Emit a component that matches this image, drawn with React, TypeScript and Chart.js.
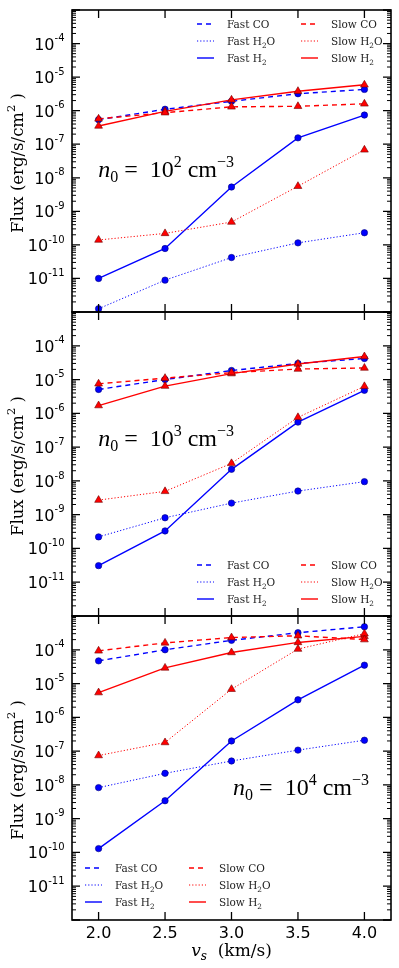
import React, { useEffect, useRef } from 'react';
import { Chart, registerables } from 'chart.js';
Chart.register(...registerables);

// ---------- data ----------
const velocities = [2.0, 2.5, 3.0, 3.5, 4.0];
const xTickValues = [2.0, 2.5, 3.0, 3.5, 4.0];
const yLabelExponents = [-11, -10, -9, -8, -7, -6, -5, -4];
const densityExponents = ['2', '3', '4'];
const seriesLabels = ['Fast CO', 'Fast H₂O', 'Fast H₂', 'Slow CO', 'Slow H₂O', 'Slow H₂'];

// n0 = 1e2
const fastCO_n2 = [5.4e-7, 1.1e-6, 1.9e-6, 3.2e-6, 4.3e-6];
const fastH2O_n2 = [1.25e-12, 8.9e-12, 4.2e-11, 1.15e-10, 2.3e-10];
const fastH2_n2 = [1.0e-11, 7.8e-11, 5.3e-9, 1.55e-7, 7.4e-7];
const slowCO_n2 = [5.7e-7, 8.7e-7, 1.3e-6, 1.35e-6, 1.6e-6];
const slowH2O_n2 = [1.4e-10, 2.2e-10, 4.8e-10, 5.6e-9, 6.8e-8];
const slowH2_n2 = [3.5e-7, 9.5e-7, 2.1e-6, 3.8e-6, 5.9e-6];

// n0 = 1e3
const fastCO_n3 = [5.1e-6, 1.0e-5, 1.85e-5, 3.0e-5, 4.2e-5];
const fastH2O_n3 = [2.2e-10, 8.1e-10, 2.2e-9, 5.0e-9, 9.5e-9];
const fastH2_n3 = [3.1e-11, 3.3e-10, 2.2e-8, 5.5e-7, 4.8e-6];
const slowCO_n3 = [7.5e-6, 1.1e-5, 1.6e-5, 2.05e-5, 2.2e-5];
const slowH2O_n3 = [2.7e-9, 4.9e-9, 3.3e-8, 7.6e-7, 6.3e-6];
const slowH2_n3 = [1.7e-6, 6.4e-6, 1.5e-5, 2.9e-5, 4.8e-5];

// n0 = 1e4
const fastCO_n4 = [4.7e-5, 1.0e-4, 1.9e-4, 3.2e-4, 4.8e-4];
const fastH2O_n4 = [8.3e-9, 2.2e-8, 5.1e-8, 1.07e-7, 2.1e-7];
const fastH2_n4 = [1.3e-10, 3.4e-9, 2.0e-7, 3.3e-6, 3.5e-5];
const slowCO_n4 = [9.3e-5, 1.6e-4, 2.3e-4, 2.6e-4, 2.0e-4];
const slowH2O_n4 = [7.4e-8, 1.8e-7, 6.8e-6, 1.05e-4, 3.0e-4];
const slowH2_n4 = [5.4e-6, 2.9e-5, 8.3e-5, 1.65e-4, 2.5e-4];

const panelSeries = [
  [fastCO_n2, fastH2O_n2, fastH2_n2, slowCO_n2, slowH2O_n2, slowH2_n2],
  [fastCO_n3, fastH2O_n3, fastH2_n3, slowCO_n3, slowH2O_n3, slowH2_n3],
  [fastCO_n4, fastH2O_n4, fastH2_n4, slowCO_n4, slowH2O_n4, slowH2_n4],
];

// ---------- layout / style ----------
const W = 399;
const H = 968;
const PLOT_LEFT = 72;
const PLOT_RIGHT_PAD = 8;
const panelTops = [10, 312, 616];
const panelBottoms = [312, 616, 920];
// annotation: fraction of plot width / height for baseline-left
const annotPos = [
  { fx: 0.082, fy: 0.553 },
  { fx: 0.082, fy: 0.44 },
  { fx: 0.505, fy: 0.59 },
];
// legend: first line-sample x offset from plot left, first row y offset from plot top
const legendPos = [
  { dx: 125, dy: 14 },
  { dx: 125, dy: 253 },
  { dx: 13, dy: 252 },
];

const BLUE = '#0000ff';
const RED = '#ff0000';
const SERIF = '"DejaVu Serif", serif';
const SANS = '"DejaVu Sans", sans-serif';

type Piece = { t: string; size: number; italic?: boolean; dy?: number };

function drawRich(ctx: CanvasRenderingContext2D, pieces: Piece[], x: number, y: number, align: 'left' | 'center' | 'right', family: string) {
  const widths = pieces.map((p) => {
    ctx.font = `${p.italic ? 'italic ' : ''}${p.size}px ${family}`;
    return ctx.measureText(p.t).width;
  });
  const total = widths.reduce((a, b) => a + b, 0);
  let cx = align === 'left' ? x : align === 'center' ? x - total / 2 : x - total;
  pieces.forEach((p, i) => {
    ctx.font = `${p.italic ? 'italic ' : ''}${p.size}px ${family}`;
    ctx.fillText(p.t, cx, y + (p.dy || 0));
    cx += widths[i];
  });
}

function labelPieces(label: string, size: number): Piece[] {
  const out: Piece[] = [];
  let buf = '';
  for (const ch of label) {
    if (ch === '₂') {
      if (buf) out.push({ t: buf, size });
      buf = '';
      out.push({ t: '2', size: size * 0.7, dy: size * 0.3 });
    } else buf += ch;
  }
  if (buf) out.push({ t: buf, size });
  return out;
}

const decorPlugin = {
  id: 'decor',
  afterDraw(chart: any, _args: any, opts: any) {
    const { ctx, chartArea: a, scales } = chart;
    const x = scales.x;
    const y = scales.y;
    ctx.save();
    ctx.strokeStyle = '#000';
    ctx.fillStyle = '#000';
    // y ticks (major + minor), inward on both sides
    for (let e = -12; e <= -3; e++) {
      const py = y.getPixelForValue(Math.pow(10, e));
      ctx.lineWidth = 1.3;
      ctx.beginPath();
      ctx.moveTo(a.left, py); ctx.lineTo(a.left + 8, py);
      ctx.moveTo(a.right, py); ctx.lineTo(a.right - 8, py);
      ctx.stroke();
      if (e < -3) {
        ctx.lineWidth = 1;
        ctx.beginPath();
        for (let m = 2; m <= 9; m++) {
          const pm = y.getPixelForValue(m * Math.pow(10, e));
          ctx.moveTo(a.left, pm); ctx.lineTo(a.left + 4, pm);
          ctx.moveTo(a.right, pm); ctx.lineTo(a.right - 4, pm);
        }
        ctx.stroke();
      }
    }
    // x ticks inward top & bottom
    ctx.lineWidth = 1.3;
    ctx.beginPath();
    for (const v of xTickValues) {
      const px = x.getPixelForValue(v);
      ctx.moveTo(px, a.top); ctx.lineTo(px, a.top + 8);
      ctx.moveTo(px, a.bottom); ctx.lineTo(px, a.bottom - 8);
    }
    ctx.stroke();
    // frame
    ctx.lineWidth = 1.6;
    ctx.strokeRect(a.left, a.top, a.right - a.left, a.bottom - a.top);

    // y tick labels 10^e
    ctx.textBaseline = 'alphabetic';
    for (const e of yLabelExponents) {
      const py = y.getPixelForValue(Math.pow(10, e));
      drawRich(ctx, [
        { t: '10', size: 16, dy: 6 },
        { t: String(e), size: 10, dy: -2.3 },
      ], a.left - 7.5, py, 'right', SANS);
    }

    // y axis title (rotated)
    ctx.save();
    ctx.translate(23, (a.top + a.bottom) / 2 + 2);
    ctx.rotate(-Math.PI / 2);
    drawRich(ctx, [
      { t: 'Flux (erg/s/cm', size: 16.5 },
      { t: '2', size: 11.5, dy: -8 },
      { t: ' )', size: 16.5 },
    ], 0, 0, 'center', SERIF);
    ctx.restore();

    // density annotation
    const ax = a.left + opts.annot.fx * (a.right - a.left);
    const ay = a.top + opts.annot.fy * (a.bottom - a.top);
    drawRich(ctx, [
      { t: 'n', size: 24, italic: true },
      { t: '0', size: 16, dy: 5 },
      { t: ' =  10', size: 24 },
      { t: opts.exp, size: 16, dy: -10 },
      { t: ' cm', size: 24 },
      { t: '−3', size: 16, dy: -10 },
    ], ax, ay, 'left', '"Liberation Serif", serif');

    // legend
    const ds = chart.data.datasets;
    ds.forEach((d: any, idx: number) => {
      const col = idx < 3 ? 0 : 1;
      const row = idx % 3;
      const lx = a.left + opts.legend.dx + col * 104;
      const ly = a.top + opts.legend.dy + row * 17;
      ctx.save();
      ctx.strokeStyle = d.borderColor;
      ctx.lineWidth = d.borderWidth;
      ctx.setLineDash(d.borderDash || []);
      ctx.beginPath();
      ctx.moveTo(lx, ly); ctx.lineTo(lx + 17, ly);
      ctx.stroke();
      ctx.restore();
      ctx.fillStyle = '#222';
      drawRich(ctx, labelPieces(d.label, 10.5), lx + 30, ly + 4, 'left', SERIF);
    });

    // x axis title on bottom panel
    if (opts.showXTitle) {
      ctx.fillStyle = '#000';
      drawRich(ctx, [
        { t: 'v', size: 17, italic: true },
        { t: 's', size: 12, italic: true, dy: 4 },
        { t: '  (km/s)', size: 17 },
      ], (a.left + a.right) / 2, 956, 'center', SERIF);
    }
    ctx.restore();
  },
};

function makeConfig(p: number): any {
  const series = panelSeries[p];
  const datasets = series.map((vals, i) => {
    const fast = i < 3;
    const kind = i % 3; // 0 CO, 1 H2O, 2 H2
    const color = fast ? BLUE : RED;
    return {
      label: seriesLabels[i],
      data: velocities.map((v, k) => ({ x: v, y: vals[k] })),
      borderColor: color,
      backgroundColor: color,
      borderWidth: kind === 1 ? 1 : 1.4,
      borderDash: kind === 0 ? [5, 4] : kind === 1 ? [1.2, 2] : [],
      pointStyle: fast ? 'circle' : 'triangle',
      pointRadius: fast ? 3.2 : 4.5,
      pointBackgroundColor: color,
      pointBorderColor: fast ? '#00007a' : '#700000',
      pointBorderWidth: 0.6,
      tension: 0,
      order: fast ? 1 : 0,
      clip: 4,
    };
  });
  const isBottom = p === 2;
  return {
    type: 'line',
    data: { datasets },
    plugins: [decorPlugin],
    options: {
      responsive: false,
      animation: false,
      devicePixelRatio: 1,
      layout: {
        padding: {
          top: panelTops[p],
          bottom: isBottom ? 0 : H - panelBottoms[p],
          left: 0,
          right: PLOT_RIGHT_PAD,
        },
      },
      plugins: {
        legend: { display: false },
        tooltip: { enabled: false },
        decor: {
          annot: annotPos[p],
          legend: legendPos[p],
          exp: densityExponents[p],
          showXTitle: isBottom,
        },
      },
      scales: {
        x: {
          type: 'linear',
          min: 1.8,
          max: 4.2,
          display: isBottom,
          afterBuildTicks: (s: any) => { s.ticks = xTickValues.map((v) => ({ value: v })); },
          afterFit: (s: any) => { s.height = isBottom ? H - panelBottoms[2] : 0; },
          grid: { display: false, drawTicks: false },
          border: { display: false },
          ticks: {
            color: '#000',
            padding: 4,
            font: { family: SANS, size: 16 },
            maxRotation: 0,
            callback: (v: any) => Number(v).toFixed(1),
          },
        },
        y: {
          type: 'logarithmic',
          min: 1e-12,
          max: 1e-3,
          afterFit: (s: any) => { s.width = PLOT_LEFT; },
          grid: { display: false, drawTicks: false },
          border: { display: false },
          ticks: { display: false },
        },
      },
    },
  };
}

export default function App() {
  const r0 = useRef<HTMLCanvasElement>(null);
  const r1 = useRef<HTMLCanvasElement>(null);
  const r2 = useRef<HTMLCanvasElement>(null);
  useEffect(() => {
    const refs = [r0, r1, r2];
    const charts = refs.map((r, i) => new Chart(r.current as HTMLCanvasElement, makeConfig(i)));
    return () => charts.forEach((c) => c.destroy());
  }, []);
  const cs: React.CSSProperties = { position: 'absolute', left: 0, top: 0, width: W, height: H };
  return (
    <div style={{ position: 'absolute', left: 0, top: 0, width: W, height: H, background: '#fff' }}>
      <canvas ref={r0} width={W} height={H} style={cs} />
      <canvas ref={r1} width={W} height={H} style={cs} />
      <canvas ref={r2} width={W} height={H} style={cs} />
    </div>
  );
}
